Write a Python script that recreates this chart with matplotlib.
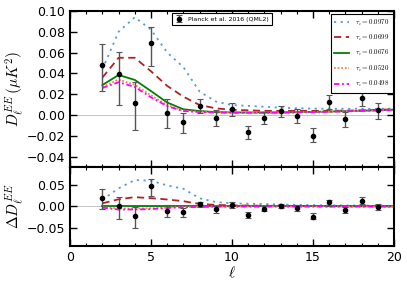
import numpy as np
import matplotlib
matplotlib.use('Agg')
import matplotlib.pyplot as plt

# Planck 2016 (QML2) EE band powers, ell = 2..19
ell_data = np.arange(2, 20)
D_data = np.array([0.048, 0.039, 0.012, 0.0696, 0.0016, -0.007, 0.0087, -0.003, 0.0058,
                   -0.016, -0.0026, 0.0038, -0.001, -0.020, 0.0125, -0.0038, 0.0163, 0.0045])
D_upper = np.array([0.068, 0.061, 0.032, 0.085, 0.015, 0.0016, 0.015, 0.005, 0.012,
                    -0.011, 0.0026, 0.0087, 0.0055, -0.0128, 0.019, 0.0026, 0.025, 0.0112])
D_lower = np.array([0.023, 0.010, -0.0144, 0.047, -0.0125, -0.0176, 0.0016, -0.011, -0.001,
                    -0.023, -0.009, -0.0016, -0.008, -0.026, 0.0055, -0.012, 0.009, -0.0038])

# model spectra, ell = 2..20
ell_model = np.arange(2, 21)
tau_labels = ['0.0970', '0.0699', '0.0676', '0.0520', '0.0498']
D_0970 = [0.044, 0.080, 0.094, 0.082, 0.060, 0.046, 0.0225, 0.013, 0.0095, 0.0088,
          0.008, 0.007, 0.0065, 0.0062, 0.006, 0.006, 0.006, 0.006, 0.0062]
D_0699 = [0.036, 0.055, 0.055, 0.042, 0.028, 0.0176, 0.0096, 0.0064, 0.005, 0.0045,
          0.004, 0.004, 0.004, 0.004, 0.004, 0.0042, 0.0045, 0.005, 0.0055]
D_0676 = [0.0288, 0.0385, 0.0337, 0.023, 0.012, 0.0055, 0.0038, 0.0028, 0.0025, 0.0024,
          0.0024, 0.0025, 0.0027, 0.003, 0.0033, 0.0037, 0.0041, 0.0046, 0.0052]
D_0520 = [0.027, 0.034, 0.029, 0.019, 0.0095, 0.0042, 0.003, 0.0025, 0.0023, 0.0023,
          0.0023, 0.0024, 0.0026, 0.0029, 0.0032, 0.0036, 0.004, 0.0045, 0.005]
D_0498 = [0.026, 0.0315, 0.027, 0.017, 0.0085, 0.0038, 0.0028, 0.0024, 0.0022, 0.0022,
          0.0022, 0.0023, 0.0025, 0.0028, 0.0031, 0.0035, 0.0039, 0.0044, 0.0049]

models = [D_0970, D_0699, D_0676, D_0520, D_0498]
colors = ['#5b9bd5', '#b22222', 'green', '#ff7f50', 'magenta']
styles = [(0, (1.2, 2.5)), (0, (4, 2.5)), '-', (0, (1, 1)), (0, (3, 1.5, 1, 1.5))]
widths = [1.3, 1.3, 1.3, 1.3, 1.3]

plt.rcParams['xtick.direction'] = 'in'
plt.rcParams['ytick.direction'] = 'in'
plt.rcParams['xtick.top'] = True
plt.rcParams['ytick.right'] = True
plt.rcParams['mathtext.fontset'] = 'cm'

fig = plt.figure(figsize=(4.07, 2.88), dpi=100)
ax1 = fig.add_axes([0.172, 0.420, 0.796, 0.542])
ax2 = fig.add_axes([0.172, 0.146, 0.796, 0.274], sharex=ax1)

fid = np.array(D_0676)
fid_at_data = fid[ell_data - 2]

# top panel
ax1.axhline(0, color='#bbbbbb', lw=0.6, zorder=0)
lines = []
for m, c, s, w, t in zip(models, colors, styles, widths, tau_labels):
    ln, = ax1.plot(ell_model, m, color=c, linestyle=s, lw=w, label=r'$\tau_e = %s$' % t)
    lines.append(ln)
eb = ax1.errorbar(ell_data, D_data, yerr=[D_data - D_lower, D_upper - D_data], fmt='o',
                  color='k', ms=3, ecolor='#555555', elinewidth=1, capsize=2, capthick=0.8,
                  label='Planck et al. 2016 (QML2)', zorder=5)

# bottom panel: residuals w.r.t. tau = 0.0676
ax2.axhline(0, color='#bbbbbb', lw=0.6, zorder=0)
for m, c, s, w in zip(models, colors, styles, widths):
    ax2.plot(ell_model, np.array(m) - fid, color=c, linestyle=s, lw=w)
res = D_data - fid_at_data
ax2.errorbar(ell_data, res, yerr=[D_data - D_lower, D_upper - D_data], fmt='o',
             color='k', ms=3, ecolor='#555555', elinewidth=1, capsize=2, capthick=0.8, zorder=5)

ax1.set_xlim(0, 20)
ax1.set_ylim(-0.05, 0.10)
ax2.set_ylim(-0.09, 0.09)
ax1.set_yticks(np.arange(-0.04, 0.101, 0.02))
ax2.set_yticks([-0.05, 0.0, 0.05])
ax2.set_xticks([0, 5, 10, 15, 20])
ax2.set_xticks(np.arange(0, 21, 1), minor=True)
plt.setp(ax1.get_xticklabels(), visible=False)

for ax in (ax1, ax2):
    ax.tick_params(which='major', length=5, width=1, labelsize=9)
    ax.tick_params(which='minor', length=2.5, width=0.8)
    for sp in ax.spines.values():
        sp.set_linewidth(1.5)

ax1.set_ylabel(r'$D_\ell^{EE}\,(\mu K^2)$', fontsize=11)
ax2.set_ylabel(r'$\Delta D_\ell^{EE}$', fontsize=11)
ax2.set_xlabel(r'$\ell$', fontsize=11, labelpad=1)
ax1.yaxis.set_label_coords(-0.135, 0.5)
ax2.yaxis.set_label_coords(-0.135, 0.5)

leg1 = ax1.legend([eb], ['Planck et al. 2016 (QML2)'], loc='upper left',
                  bbox_to_anchor=(0.315, 0.985), borderaxespad=0, fontsize=4.5,
                  fancybox=False, edgecolor='k', framealpha=1, handlelength=1.2,
                  borderpad=0.5)
leg1.get_frame().set_linewidth(0.8)
ax1.add_artist(leg1)
leg2 = ax1.legend(lines, [l.get_label() for l in lines], loc='upper right',
                  bbox_to_anchor=(0.997, 0.98), borderaxespad=0, fontsize=5,
                  fancybox=False, edgecolor='k', framealpha=1, handlelength=2.2,
                  labelspacing=0.75, borderpad=0.5)
leg2.get_frame().set_linewidth(0.8)

fig.savefig('out.png', dpi=100)
